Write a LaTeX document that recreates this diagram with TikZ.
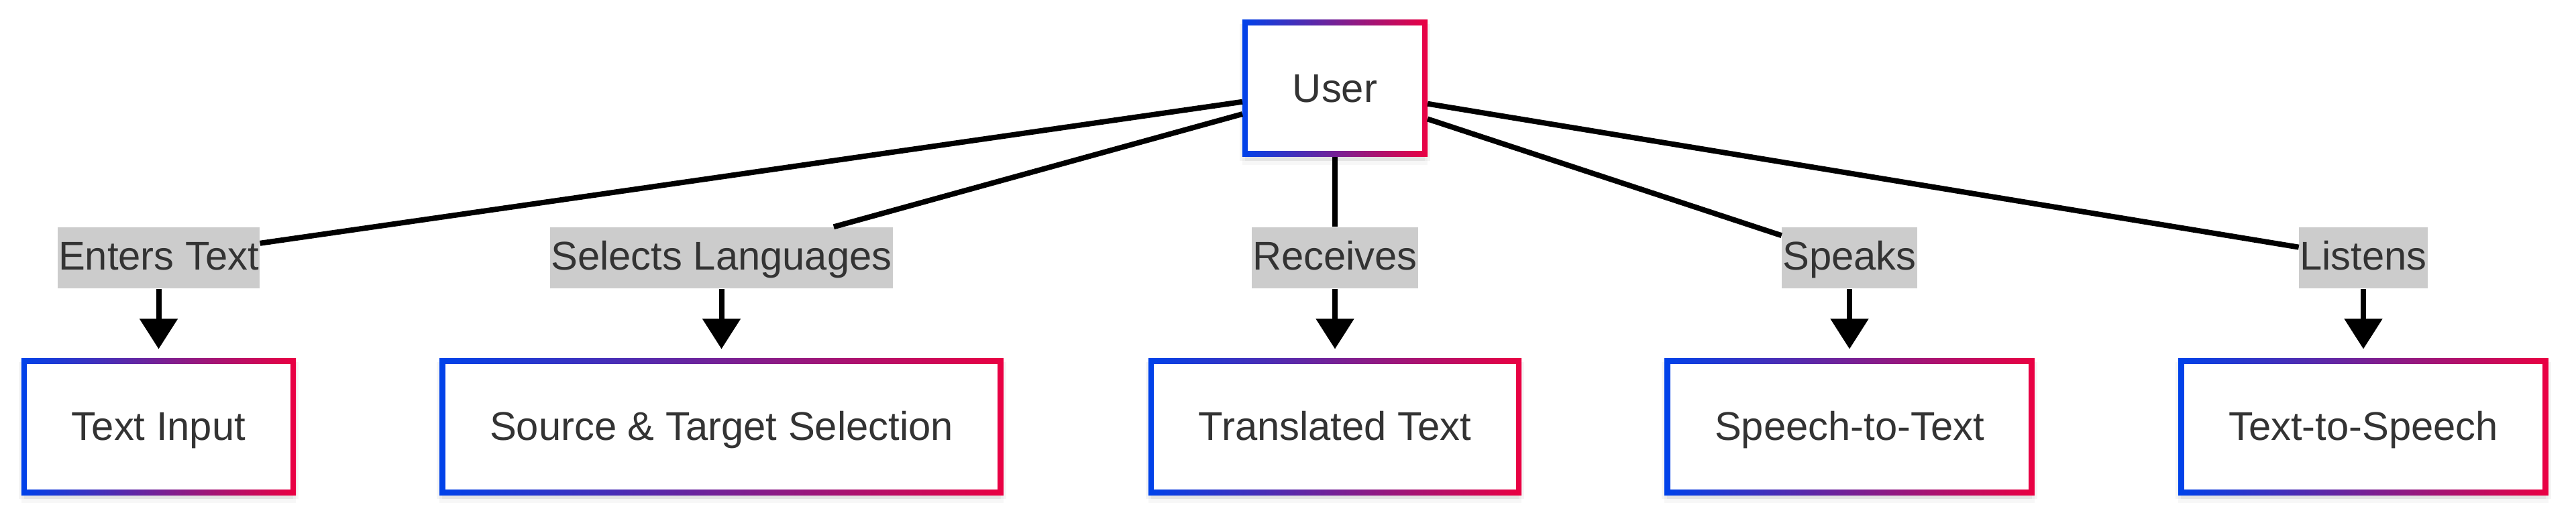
\documentclass[tikz,border=0pt]{standalone}
\usepackage{fontspec}
\setmainfont{Liberation Sans}
\usetikzlibrary{arrows.meta,shadows}

\definecolor{frameblue}{RGB}{0,66,234}
\definecolor{framered}{RGB}{234,0,66}
\definecolor{taggray}{RGB}{204,204,204}
\definecolor{inkgray}{RGB}{51,51,51}

\begin{document}
\begin{tikzpicture}[
    >={Triangle[length=0.45cm, width=0.55cm]},
    box/.style={
        rectangle,
        left color=frameblue,
        right color=framered,
        minimum height=2.04cm,
        inner xsep=0.75cm,
        inner ysep=0pt,
        outer sep=0pt,
        text height=0.55cm,
        text depth=0.14cm,
        text=inkgray,
        font=\fontsize{17}{20}\selectfont,
        general shadow={fill=black, opacity=0.04,
            shadow xshift=-0.04cm, shadow yshift=-0.06cm},
        general shadow={fill=black, opacity=0.04,
            shadow xshift=0.04cm, shadow yshift=-0.06cm},
        general shadow={fill=black, opacity=0.03,
            shadow yshift=-0.12cm},
        path picture={
            \fill[white]
                ([shift={(0.085,0.085)}]path picture bounding box.south west)
                rectangle
                ([shift={(-0.085,-0.085)}]path picture bounding box.north east);
        }
    },
    tag/.style={
        fill=taggray,
        text=inkgray,
        font=\fontsize{17}{20}\selectfont,
        inner xsep=0.01cm,
        inner ysep=0pt,
        text height=0.64cm,
        text depth=0.27cm
    },
    link/.style={
        line width=0.08cm
    },
    flow/.style={
        ->,
        line width=0.08cm,
        shorten >=0.14cm
    }
]

\useasboundingbox (0,0) rectangle (38.4,7.71);

% Rows and columns
\def\TopY{6.39}
\def\TagY{3.865}
\def\BoxY{1.345}
\def\ColA{2.365}
\def\ColB{10.755}
\def\ColC{19.90}
\def\ColD{27.57}
\def\ColE{35.23}

% ==================================================
% User
% ==================================================

\node[box] (user) at (\ColC,\TopY) {User};

% ==================================================
% Edge labels
% ==================================================

\node[tag] (entersTag) at (\ColA,\TagY) {Enters Text};
\node[tag] (selectsTag) at (\ColB,\TagY) {Selects Languages};
\node[tag] (receivesTag) at (\ColC,\TagY) {Receives};
\node[tag] (speaksTag) at (\ColD,\TagY) {Speaks};
\node[tag] (listensTag) at (\ColE,\TagY) {Listens};

% ==================================================
% Features
% ==================================================

\node[box] (textInput) at (\ColA,\BoxY) {Text Input};
\node[box] (langSelect) at (\ColB,\BoxY) {Source \& Target Selection};
\node[box] (translated) at (\ColC,\BoxY) {Translated Text};
\node[box] (speechText) at (\ColD,\BoxY) {Speech-to-Text};
\node[box] (textSpeech) at (\ColE,\BoxY) {Text-to-Speech};

% ==================================================
% Connections
% ==================================================

\draw[link] (user) -- (entersTag);
\draw[link] (user) -- (selectsTag);
\draw[link] (user) -- (receivesTag);
\draw[link] (user) -- (speaksTag);
\draw[link] (user) -- (listensTag);

\draw[flow] (entersTag) -- (textInput);
\draw[flow] (selectsTag) -- (langSelect);
\draw[flow] (receivesTag) -- (translated);
\draw[flow] (speaksTag) -- (speechText);
\draw[flow] (listensTag) -- (textSpeech);

\end{tikzpicture}
\end{document}
